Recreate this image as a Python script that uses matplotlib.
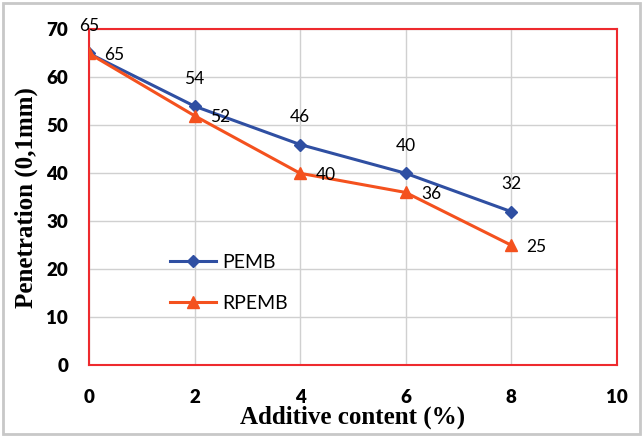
import matplotlib.pyplot as plt
from matplotlib.patches import Rectangle

additive = [0, 2, 4, 6, 8]
pemb = [65, 54, 46, 40, 32]
rpemb = [65, 52, 40, 36, 25]

blue = '#2F4FA2'
orange = '#F4511E'

fig = plt.figure(figsize=(6.43, 4.37), dpi=100)
ax = fig.add_axes([0.1384, 0.1648, 0.8207, 0.7677])

ax.plot(additive, pemb, color=blue, marker='D', markersize=6.5, linewidth=2.2, label='PEMB', zorder=3)
ax.plot(additive, rpemb, color=orange, marker='^', markersize=8.5, linewidth=2.2, label='RPEMB', zorder=3)

for x, y in zip(additive, pemb):
    ax.annotate(str(y), (x, y), xytext=(0, 14), textcoords='offset points',
                ha='center', va='bottom', fontsize=12.5, family='Lato')
for x, y in zip(additive, rpemb):
    ax.annotate(str(y), (x, y), xytext=(11, -1), textcoords='offset points',
                ha='left', va='center', fontsize=12.5, family='Lato')

ax.set_xlim(0, 10)
ax.set_ylim(0, 70)
ax.set_xticks(range(0, 11, 2))
ax.set_yticks(range(0, 71, 10))
ax.grid(True, color='#D0D0D0', linewidth=1)
ax.set_axisbelow(True)
for s in ax.spines.values():
    s.set_color('#EE2A2E')
    s.set_linewidth(1.5)
ax.tick_params(axis='x', length=0, labelsize=13.5, pad=17)
ax.tick_params(axis='y', length=0, labelsize=13.5, pad=15)
for lab in ax.get_xticklabels() + ax.get_yticklabels():
    lab.set_fontweight('heavy')
    lab.set_family('Lato')

ax.set_xlabel('Additive content (%)', family='Liberation Serif', fontweight='bold', fontsize=18, labelpad=0)
ax.set_ylabel('Penetration (0,1mm)', family='Liberation Serif', fontweight='bold', fontsize=18, labelpad=6)

ax.legend(loc='center left', bbox_to_anchor=(0.12, 0.245), frameon=False,
          prop={'family': 'Lato', 'size': 14}, handlelength=2.4, labelspacing=1.25,
          handletextpad=0.3)

fig.patches.append(Rectangle((0.004, 0.006), 0.992, 0.988, transform=fig.transFigure,
                             fill=False, edgecolor='#C8C8C8', linewidth=2))

fig.savefig('out.png', dpi=100)
